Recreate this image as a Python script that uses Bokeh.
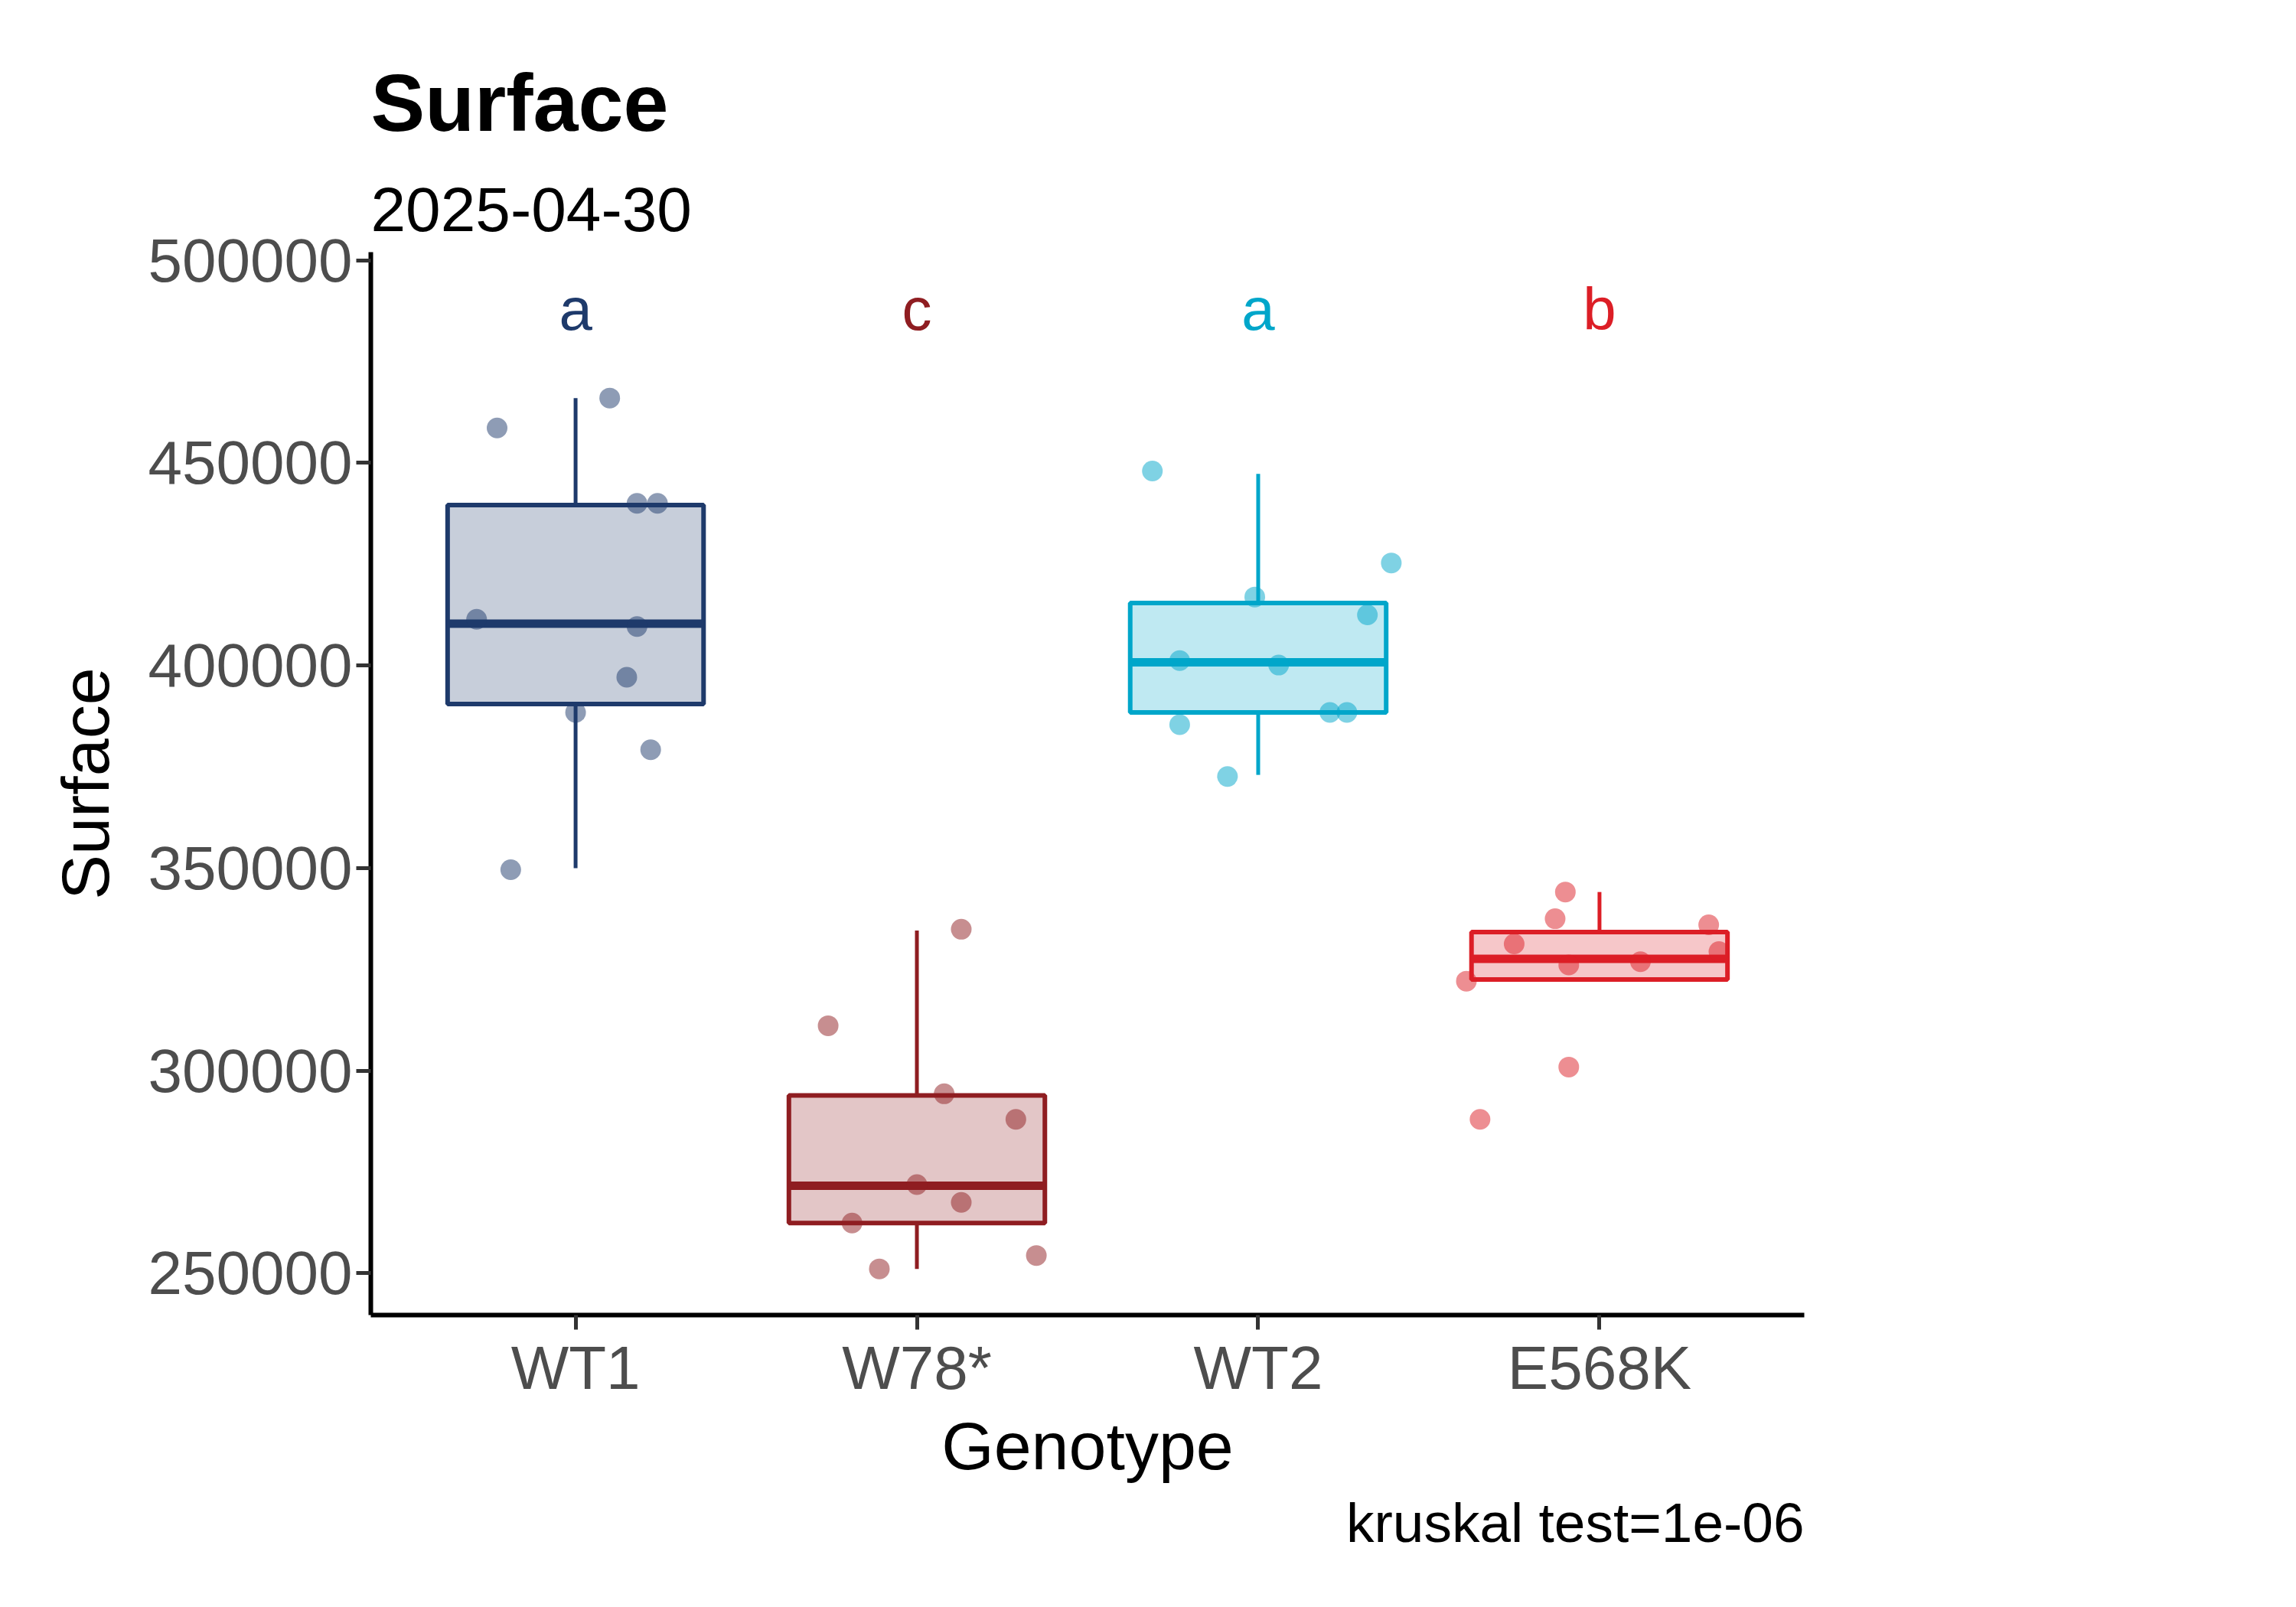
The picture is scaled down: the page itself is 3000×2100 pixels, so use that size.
from bokeh.plotting import figure
from bokeh.models import Title, Legend, LegendItem, FixedTicker, Range1d
from bokeh.embed import file_html
from bokeh.resources import INLINE

genotypes = ["WT1", "W78*", "WT2", "E568K"]
colors = ["#1E3A6B", "#8F1D21", "#00A6CA", "#DC1E26"]
letters = ["a", "c", "a", "b"]

q1 = [390500, 262400, 388400, 322500]
med = [410300, 271600, 400800, 327600]
q3 = [439600, 293900, 415400, 334200]
wlo = [350000, 251100, 373000, 322100]
whi = [466000, 334600, 447300, 344100]

pts = {
    "WT1": [458600, 466000, 440000, 440000, 411400, 409600, 397100, 388400, 379200, 349600],
    "W78*": [311100, 334900, 294300, 288000, 271900, 267500, 262400, 251100, 254400],
    "WT2": [448000, 425300, 416900, 412500, 401200, 400100, 388400, 388400, 385400, 372600],
    "E568K": [344100, 337500, 336000, 331300, 329400, 326100, 326900, 322100, 300900, 288000],
}
jit = {
    "WT1": [-0.23, 0.10, 0.18, 0.24, -0.29, 0.18, 0.15, 0.0, 0.22, -0.19],
    "W78*": [-0.26, 0.13, 0.08, 0.29, 0.0, 0.13, -0.19, -0.11, 0.35],
    "WT2": [-0.31, 0.39, -0.01, 0.32, -0.23, 0.06, 0.21, 0.26, -0.23, -0.09],
    "E568K": [-0.10, -0.13, 0.32, -0.25, 0.35, -0.09, 0.12, -0.39, -0.09, -0.35],
}
letter_y = 488000

W, H = 2980, 2080
p = figure(width=W, height=H, output_backend="svg", toolbar_location=None,
           x_range=Range1d(0.4, 4.6), y_range=Range1d(239700, 502000),
           min_border_left=484, min_border_right=W - 2357,
           min_border_top=329, min_border_bottom=H - 1718)
p.grid.visible = False
p.outline_line_color = None
p.background_fill_color = "white"

cap = Title(text="kruskal test=1e-06", align="right", text_font_size="73px",
            text_font="Liberation Sans", text_font_style="normal", text_color="black")
p.add_layout(cap, "below")
sub = Title(text="2025-04-30", text_font_size="82px", text_font="Liberation Sans",
            text_font_style="normal", text_color="black", standoff=55)
p.add_layout(sub, "above")
tit = Title(text="Surface", text_font_size="106px", text_font="Liberation Sans",
            text_font_style="bold", text_color="black", standoff=45)
p.add_layout(tit, "above")

xs = [1, 2, 3, 4]
items = []
for i, g in enumerate(genotypes):
    c = colors[i]
    x = xs[i]
    p.segment(x0=[x, x], y0=[wlo[i], q3[i]], x1=[x, x], y1=[q1[i], whi[i]], line_color=c, line_width=5)
    r = p.quad(left=[x - 0.375], right=[x + 0.375], bottom=[q1[i]], top=[q3[i]],
               fill_color=c, fill_alpha=0.25, line_color=c, line_width=6)
    m = p.segment(x0=[x - 0.375], x1=[x + 0.375], y0=[med[i]], y1=[med[i]], line_color=c, line_width=11)
    p.scatter(x=[x + j for j in jit[g]], y=pts[g], size=27, fill_color=c, line_color=None, fill_alpha=0.5)
    p.text(x=[x], y=[letter_y], text=[letters[i]], text_color=c, text_align="center",
           text_baseline="middle", text_font_size="78px", text_font={"value": "Liberation Sans"})
    items.append(LegendItem(label=g, renderers=[r, m]))

leg = Legend(items=items, title="Genotype", title_text_font_size="80px",
             title_text_font="Liberation Sans", title_text_font_style="normal",
             title_text_color="black", label_text_font="Liberation Sans",
             label_text_color="black",
             label_text_font_size="76px", glyph_width=112, glyph_height=78,
             spacing=68, label_standoff=60, border_line_color=None, padding=20,
             title_standoff=50, margin=0, location=(1992, 344),
             background_fill_alpha=0)
p.add_layout(leg, "center")

p.xaxis.ticker = FixedTicker(ticks=xs)
p.xaxis.major_label_overrides = {x: g for x, g in zip(xs, genotypes)}
p.yaxis.ticker = FixedTicker(ticks=[250000, 300000, 350000, 400000, 450000, 500000])
p.yaxis.formatter.use_scientific = False
for ax in (p.xaxis, p.yaxis):
    ax.axis_line_width = 6
    ax.axis_line_color = "black"
    ax.major_tick_line_width = 5
    ax.major_tick_line_color = "#333333"
    ax.major_tick_out = 19
    ax.major_tick_in = 0
    ax.minor_tick_line_color = None
    ax.major_label_text_font_size = "80px"
    ax.major_label_text_color = "#4D4D4D"
    ax.major_label_text_font = "Liberation Sans"
    ax.axis_label_text_font_size = "88px"
    ax.axis_label_text_font = "Liberation Sans"
    ax.axis_label_text_font_style = "normal"
    ax.axis_label_text_color = "black"
p.xaxis.major_label_text_align = "right"
p.yaxis.axis_label_standoff = 30
p.xaxis.axis_label = "Genotype"
p.yaxis.axis_label = "Surface"

open("out.html", "w").write(file_html(p, INLINE))
